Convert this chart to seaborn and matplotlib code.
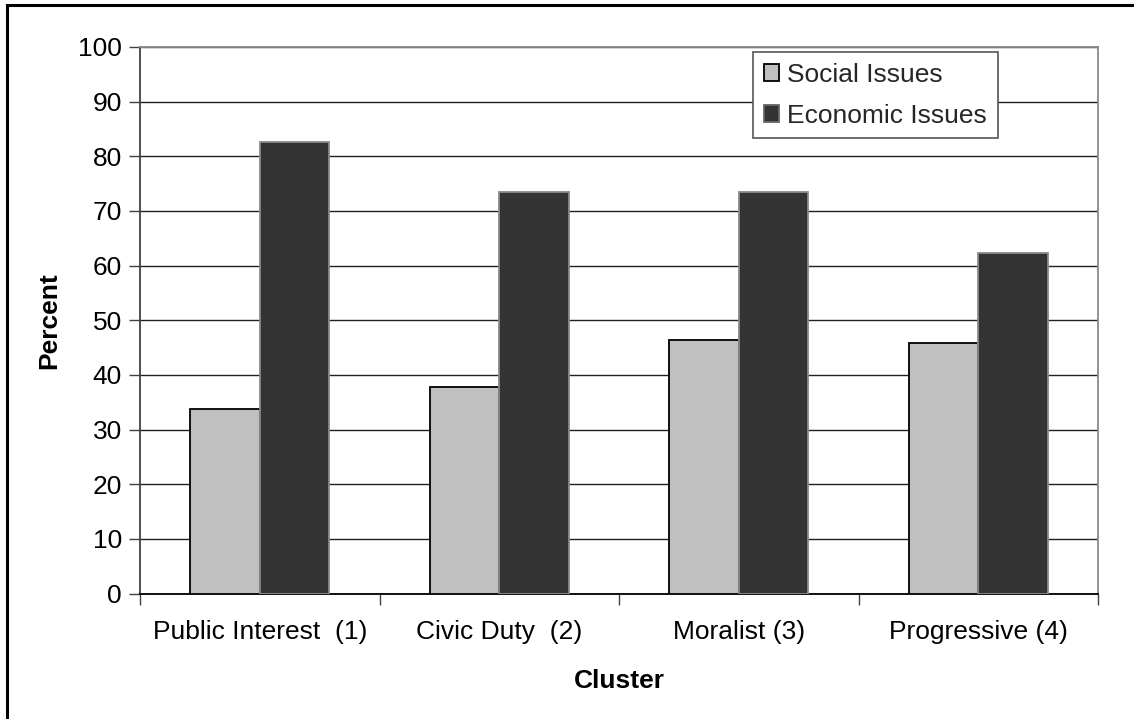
import matplotlib
matplotlib.use("Agg")
import matplotlib.pyplot as plt
from matplotlib.patches import Rectangle
from matplotlib.ticker import FixedLocator
import seaborn as sns
import pandas as pd

clusters = ["Public Interest  (1)", "Civic Duty  (2)", "Moralist (3)", "Progressive (4)"]
social_issues = [33.8, 37.8, 46.3, 45.9]
economic_issues = [82.6, 73.4, 73.4, 62.3]
series_names = ["Social Issues", "Economic Issues"]
y_ticks = [0, 10, 20, 30, 40, 50, 60, 70, 80, 90, 100]

df = pd.DataFrame({
    "Cluster": clusters * 2,
    "Percent": social_issues + economic_issues,
    "Series": [series_names[0]] * len(clusters) + [series_names[1]] * len(clusters),
})

sns.set_theme(style="white")
plt.rcParams["font.family"] = ["Liberation Sans", "DejaVu Sans"]
FS = 19

fig = plt.figure(figsize=(11.34, 7.19), dpi=100)
ax = fig.add_axes([140 / 1134, 1 - 593.5 / 719, (1098 - 140) / 1134, (593.5 - 47) / 719])

fills = ["#c0c0c0", "#333333"]
edges = ["black", "#8a8a8a"]
palette = dict(zip(series_names, fills))
sns.barplot(data=df, x="Cluster", y="Percent", hue="Series", order=clusters,
            hue_order=series_names, palette=palette, width=0.58, saturation=1,
            ax=ax, zorder=3, legend=True)

# bar outlines: black around the light series, grey around the dark one
for cont, ec in zip(ax.containers, edges):
    for bar in cont:
        bar.set_edgecolor(ec)
        bar.set_linewidth(1.3)

ax.set_ylim(0, 100)
ax.set_xlim(-0.5, len(clusters) - 0.5)
ax.set_yticks(y_ticks)
ax.yaxis.grid(True, color="#202020", linewidth=1.0, zorder=0)
ax.set_axisbelow(True)

ax.tick_params(axis="y", which="major", left=True, length=8, width=1, color="#404040",
               labelsize=FS, pad=5, labelcolor="black")
ax.tick_params(axis="x", which="major", bottom=False, length=0, labelsize=FS, pad=19,
               labelcolor="black")
ax.xaxis.set_minor_locator(FixedLocator([i - 0.5 for i in range(len(clusters) + 1)]))
ax.tick_params(axis="x", which="minor", bottom=True, length=8, width=1, color="#404040")

ax.set_xlabel("Cluster", fontsize=FS, fontweight="bold", labelpad=18, color="black")
ax.set_ylabel("Percent", fontsize=FS, fontweight="bold", labelpad=12, color="black")

for side in ["top", "right"]:
    ax.spines[side].set_color("#8a8a8a")
    ax.spines[side].set_linewidth(1.3)
ax.spines["left"].set_color("#404040")
ax.spines["left"].set_linewidth(1.3)
ax.spines["bottom"].set_color("black")
ax.spines["bottom"].set_linewidth(1.3)

handles, labels = ax.get_legend_handles_labels()
leg = ax.legend(handles, labels, loc="upper left", bbox_to_anchor=((753 - 140) / 958, (593.5 - 52) / 546.5),
                fontsize=FS, frameon=True, fancybox=False, shadow=False, framealpha=1,
                edgecolor="#555555", handlelength=0.6, handleheight=0.6, handletextpad=0.3,
                labelspacing=0.65, borderpad=0.4, borderaxespad=0)
leg.get_frame().set_linewidth(1.2)
leg.set_zorder(5)
for h, fc in zip(leg.legend_handles, fills):
    h.set_facecolor(fc)
    h.set_edgecolor("black" if fc == fills[0] else "#666666")
    h.set_linewidth(1.3)

# outer chart border
fig.patches.append(Rectangle((7 / 1134, -0.05), 1.1, 1.05 - 5 / 719, transform=fig.transFigure,
                             fill=False, edgecolor="black", linewidth=2.2, zorder=10))

fig.savefig("out.png", dpi=100)
